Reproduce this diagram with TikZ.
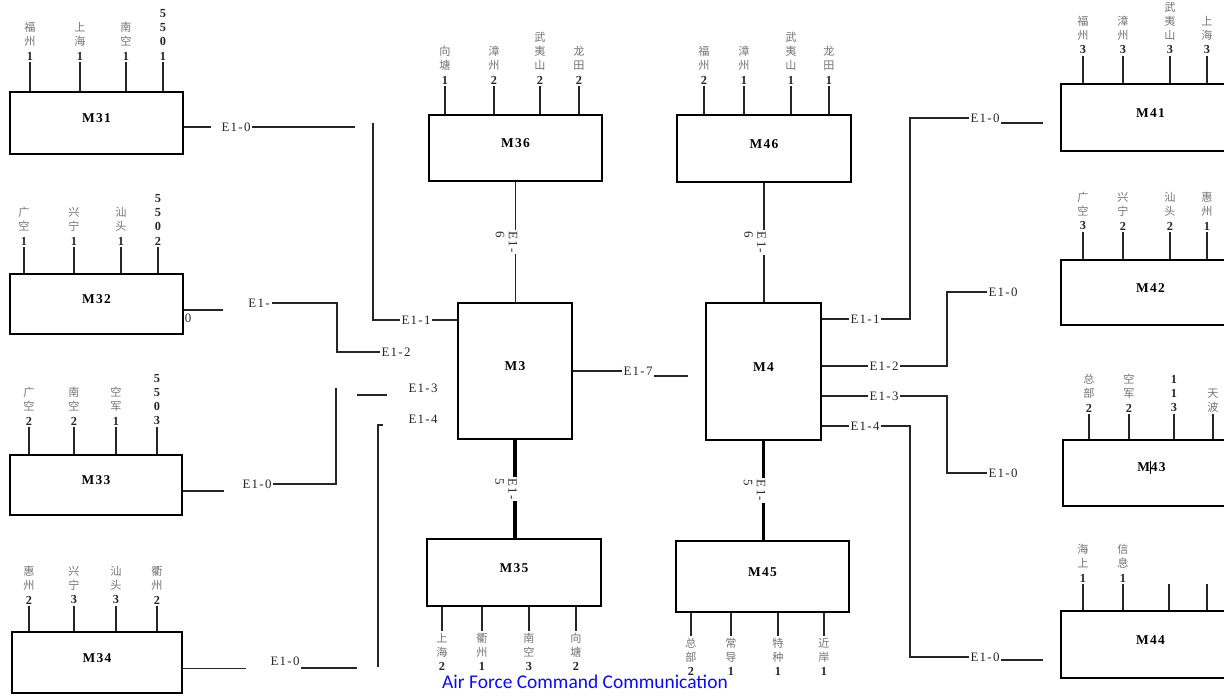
\documentclass[tikz,border=0pt]{standalone}
\usepackage{fontspec}
\setmainfont{Liberation Serif}
\newfontfamily\cjk{Noto Sans CJK SC}
\newfontfamily\efont[LetterSpace=10]{Liberation Serif}
\newfontfamily\mfont[LetterSpace=10]{Liberation Serif}
\newfontfamily\capfont{Carlito}
\usetikzlibrary{positioning,calc,fit}
\definecolor{capblue}{RGB}{10,10,250}
\newcommand{\nm}[1]{{\rmfamily\bfseries\fontsize{10.5}{12}\selectfont\color{black!85}#1}}

\begin{document}
\begin{tikzpicture}[
		x=0.03cm, y=-0.03cm,
		mbox/.style={draw, line width=1.8pt, inner sep=0pt, font=\mfont\bfseries\fontsize{11.5}{13}\selectfont},
		wire/.style={line width=0.9pt, draw=black!85},
		trunk/.style={line width=3.2pt, draw=black},
		pinlab/.style={font=\cjk\fontsize{9.5}{12}\selectfont, text=black!55, align=center, inner sep=1.2pt},
		elab/.style={font=\efont\fontsize{11}{11}\selectfont, text=black!85, inner sep=1.5pt},
		elabv/.style={elab, rotate=-90, align=left, fill=white}
		]
		
		\useasboundingbox (0,0) rectangle (1224,695);
		\clip (0,0) rectangle (1224,695);
		
		% --------------------------------------------------
		% Boxes
		% --------------------------------------------------
		\node[elab] (z32) at (188,318) {0};
		
		\node[mbox, fit={(10,92)(183,154)}] (M31) {M31};
		\node[mbox, fit={(10,274)(183,334)}] (M32) {M32};
		\node[mbox, fit={(10,455)(182,515)}] (M33) {M33};
		\node[mbox, fit={(12,632)(182,693)}] (M34) {M34};
		
		\node[mbox, fit={(429,115)(602,181)}] (M36) {M36};
		\node[mbox, fit={(458,303)(572,439)}] (M3) {M3};
		\node[mbox, fit={(427,539)(601,606)}] (M35) {M35};
		
		\node[mbox, fit={(677,115)(851,182)}] (M46) {M46};
		\node[mbox, fit={(706,303)(821,440)}] (M4) {M4};
		\node[mbox, fit={(676,541)(849,612)}] (M45) {M45};
		
		\node[mbox, fit={(1061,84)(1240,151)}] (M41) {M41};
		\node[mbox, fit={(1061,260)(1240,325)}] (M42) {M42};
		\node[mbox, fit={(1063,440)(1240,506)}] (M43) {M\rule[-2pt]{0.7pt}{11pt}43};
		\node[mbox, fit={(1061,611)(1240,678)}] (M44) {M44};
		
		% --------------------------------------------------
		% Pins with station labels
		% --------------------------------------------------
		\foreach \px/\lab in {30/{福\\州\\\nm{1}}, 80/{上\\海\\\nm{1}}, 126/{南\\空\\\nm{1}}, 163/{\nm{5}\\\nm{5}\\\nm{0}\\\nm{1}}}
		\draw[wire] (\px,0 |- M31.north) -- ++(0,-29) node[pinlab, above] {\lab};
		\foreach \px/\lab in {24/{广\\空\\\nm{1}}, 74/{兴\\宁\\\nm{1}}, 121/{汕\\头\\\nm{1}}, 158/{\nm{5}\\\nm{5}\\\nm{0}\\\nm{2}}}
		\draw[wire] (\px,0 |- M32.north) -- ++(0,-26) node[pinlab, above] {\lab};
		\foreach \px/\lab in {29/{广\\空\\\nm{2}}, 74/{南\\空\\\nm{2}}, 116/{空\\军\\\nm{1}}, 157/{\nm{5}\\\nm{5}\\\nm{0}\\\nm{3}}}
		\draw[wire] (\px,0 |- M33.north) -- ++(0,-27) node[pinlab, above] {\lab};
		\foreach \px/\lab in {29/{惠\\州\\\nm{2}}, 74/{兴\\宁\\\nm{3}}, 116/{汕\\头\\\nm{3}}, 157/{衢\\州\\\nm{2}}}
		\draw[wire] (\px,0 |- M34.north) -- ++(0,-25) node[pinlab, above] {\lab};
		
		\foreach \px/\lab in {445/{向\\塘\\\nm{1}}, 494/{漳\\州\\\nm{2}}, 540/{武\\夷\\山\\\nm{2}}, 579/{龙\\田\\\nm{2}}}
		\draw[wire] (\px,0 |- M36.north) -- ++(0,-28) node[pinlab, above] {\lab};
		\foreach \px/\lab in {704/{福\\州\\\nm{2}}, 744/{漳\\州\\\nm{1}}, 791/{武\\夷\\山\\\nm{1}}, 829/{龙\\田\\\nm{1}}}
		\draw[wire] (\px,0 |- M46.north) -- ++(0,-28) node[pinlab, above] {\lab};
		
		\foreach \px/\lab in {442/{上\\海\\\nm{2}}, 482/{衢\\州\\\nm{1}}, 529/{南\\空\\\nm{3}}, 576/{向\\塘\\\nm{2}}}
		\draw[wire] (\px,0 |- M35.south) -- ++(0,24) node[pinlab, below] {\lab};
		\foreach \px/\lab in {691/{总\\部\\\nm{2}}, 731/{常\\导\\\nm{1}}, 778/{特\\种\\\nm{1}}, 824/{近\\岸\\\nm{1}}}
		\draw[wire] (\px,0 |- M45.south) -- ++(0,23) node[pinlab, below] {\lab};
		
		\foreach \px/\lab in {1083/{福\\州\\\nm{3}}, 1123/{漳\\州\\\nm{3}}, 1170/{武\\夷\\山\\\nm{3}}, 1207/{上\\海\\\nm{3}}}
		\draw[wire] (\px,0 |- M41.north) -- ++(0,-27) node[pinlab, above] {\lab};
		\foreach \px/\lab in {1083/{广\\空\\\nm{3}}, 1123/{兴\\宁\\\nm{2}}, 1170/{汕\\头\\\nm{2}}, 1207/{惠\\州\\\nm{1}}}
		\draw[wire] (\px,0 |- M42.north) -- ++(0,-27) node[pinlab, above] {\lab};
		\foreach \px/\lab in {1089/{总\\部\\\nm{2}}, 1129/{空\\军\\\nm{2}}, 1174/{\nm{1}\\\nm{1}\\\nm{3}}, 1213/{天\\波}}
		\draw[wire] (\px,0 |- M43.north) -- ++(0,-25) node[pinlab, above] {\lab};
		\foreach \px/\lab in {1083/{海\\上\\\nm{1}}, 1123/{信\\息\\\nm{1}}, 1169/{}, 1207/{}}
		\draw[wire] (\px,0 |- M44.north) -- ++(0,-26) node[pinlab, above] {\lab};
		
		% --------------------------------------------------
		% Left links into M3
		% --------------------------------------------------
		\node[elab] (l310) at (236,127) {E1-0};
		\node[elab] (l31) at (416,320) {E1-1};
		\coordinate (b310) at (355,127);
		\coordinate (t31) at (373,123);
		\draw[wire] (M31.east |- l310) -- ++(27,0);
		\draw[wire] (l310.east) -- (b310);
		\draw[wire] (t31) |- (l31.west);
		\draw[wire] (l31.east) -- (M3.west |- l31);
		
		\node[elab] (l320) at (259,303) {E1-};
		\node[elab] (l32) at (396,352) {E1-2};
		\coordinate (k32) at (337,352);
		\draw[wire] ($(M32.east)+(0,6)$) -- ++(39,0);
		\draw[wire] (l320.east) -| (k32) -- (l32.west);
		
		\node[elab] (l330) at (257,484) {E1-0};
		\node[elab] (l33) at (423,388) {E1-3};
		\coordinate (k33) at (336,388);
		\coordinate (s33) at (357,395);
		\draw[wire] ($(M33.east)+(0,6)$) -- ++(41,0);
		\draw[wire] (l330.east) -| (k33);
		\draw[wire] (s33) -- ++(30,0);
		
		\node[elab] (l340) at (285,661) {E1-0};
		\node[elab] (l34) at (423,419) {E1-4};
		\coordinate (k34) at (378,667);
		\coordinate (t34) at (378,425);
		\draw[wire] ($(M34.east)+(0,6)$) -- ++(63,0);
		\draw[wire] ($(l340.east)+(0,7)$) -- ++(56,0);
		\draw[wire] (k34) -- (t34) -- ++(5,0);
		
		% --------------------------------------------------
		% Trunks
		% --------------------------------------------------
		\draw[wire] (M36.south) -- (M36.south |- M3.north);
		\draw[wire] (M46.south) -- (M46.south |- M4.north);
		\draw[trunk] (M3.south) -- (M3.south |- M35.north);
		\draw[trunk] (M4.south) -- (M4.south |- M45.north);
		
		\node[elabv] (v36) at ($(M36.south)!0.5!(M36.south |- M3.north)+(-9,0)$) {E1-\\6};
		\node[elabv] (v46) at ($(M46.south)!0.5!(M46.south |- M4.north)+(-9,0)$) {E1-\\6};
		\node[elabv] (v35) at ($(M3.south)!0.5!(M3.south |- M35.north)+(-9,0)$) {E1-\\5};
		\node[elabv] (v45) at ($(M4.south)!0.5!(M4.south |- M45.north)+(-9,0)$) {E1-\\5};
		
		\node[elab] (l37) at (638,371) {E1-7};
		\coordinate (b37) at (688,376);
		\draw[wire] (M3.east |- l37) -- (l37.west);
		\draw[wire] ($(l37.east)+(0,5)$) -- (b37);
		
		% --------------------------------------------------
		% Right links out of M4
		% --------------------------------------------------
		\node[elab] (l41) at (865,319) {E1-1};
		\node[elab] (l410) at (985,118) {E1-0};
		\coordinate (k41) at (910,118);
		\draw[wire] (M4.east |- l41) -- (l41.west);
		\draw[wire] (l41.east) -| (k41) -- (l410.west);
		\draw[wire] ($(l410.east)+(0,5)$) -- ++(42,0);
		
		\node[elab] (l42) at (884,366) {E1-2};
		\node[elab] (l420) at (1003,292) {E1-0};
		\coordinate (k42) at (947,292);
		\draw[wire] (M4.east |- l42) -- (l42.west);
		\draw[wire] (l42.east) -| (k42) -- (l420.west);
		
		\node[elab] (l43) at (884,396) {E1-3};
		\node[elab] (l430) at (1003,473) {E1-0};
		\coordinate (k43) at (947,473);
		\draw[wire] (M4.east |- l43) -- (l43.west);
		\draw[wire] (l43.east) -| (k43) -- (l430.west);
		
		\node[elab] (l44) at (865,426) {E1-4};
		\node[elab] (l440) at (985,657) {E1-0};
		\coordinate (k44) at (910,657);
		\draw[wire] (M4.east |- l44) -- (l44.west);
		\draw[wire] (l44.east) -| (k44) -- (l440.west);
		\draw[wire] ($(l440.east)+(0,3)$) -- ++(42,0);
		
		% --------------------------------------------------
		% Caption
		% --------------------------------------------------
		\node[font=\capfont\fontsize{16.6}{16.6}\selectfont, text=capblue, inner sep=0pt] (cap) at (585,682) {Air Force Command Communication};
		
	\end{tikzpicture}
\end{document}
